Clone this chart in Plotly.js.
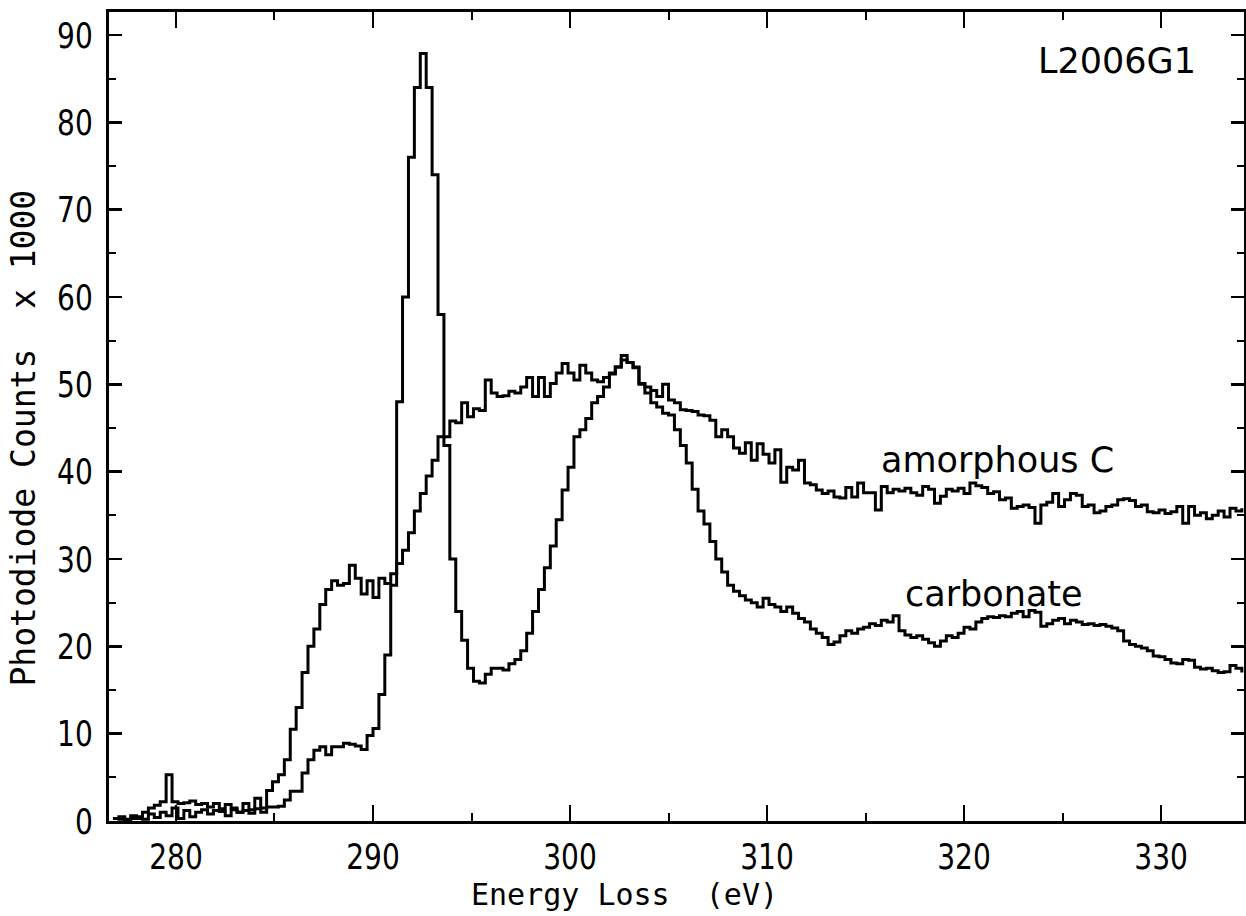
<!DOCTYPE html>
<html>
<head>
<meta charset="utf-8">
<script src="https://cdn.plot.ly/plotly-3.0.1.min.js"></script>
<style>
  html, body { margin: 0; padding: 0; background: #ffffff; }
  #chart { width: 1246px; height: 916px; }
</style>
</head>
<body>
<div id="chart"></div>
<script>
// ---- data (0.3 eV channels) ----
const energyStart = 276.8;      // eV, first channel
const channelWidth = 0.3;       // eV per channel

const carbonateCounts = [
  0.3,0.2,0.0,0.3,0.5,0.2,0.8,0.4,1.0,0.6,
  1.5,0.3,1.2,0.5,1.0,1.3,0.8,1.2,1.1,0.6,
  1.3,1.0,1.2,0.9,1.4,1.0,1.6,1.6,1.7,2.4,
  3.4,3.4,5.5,7.0,8.1,8.5,7.6,8.5,8.5,8.9,
  8.8,8.6,8.2,9.8,10.6,14.5,19.0,27.0,48.0,60.0,
  76.0,84.0,87.9,84.0,74.0,58.0,43.0,30.0,24.0,20.7,
  17.5,16.0,15.8,16.8,17.5,17.5,17.3,18.0,18.5,19.5,
  21.5,24.0,26.5,29.0,31.5,34.5,37.9,40.5,44.0,44.8,
  46.1,47.9,48.6,49.7,51.2,52.0,53.3,52.5,52.0,50.0,
  49.0,47.9,47.4,46.7,46.5,44.8,43.0,41.0,38.0,35.5,
  34.0,32.0,30.0,28.5,27.0,26.3,25.8,25.3,25.0,24.5,
  25.5,24.8,24.5,24.0,24.5,23.8,23.2,22.8,22.0,21.5,
  21.0,20.2,20.5,21.2,21.8,21.5,22.0,22.2,22.6,22.4,
  23.0,22.8,23.5,21.8,21.3,21.0,21.2,20.8,20.4,20.0,
  20.6,21.2,21.0,21.5,22.2,22.0,22.8,23.2,23.4,23.3,
  23.5,23.4,23.8,24.0,23.4,24.1,23.9,22.3,22.6,23.0,
  23.2,22.6,23.0,22.8,22.5,22.6,22.4,22.5,22.3,22.1,
  21.8,20.6,20.2,20.0,19.8,19.5,18.9,18.8,18.5,18.1,
  18.0,18.5,18.4,17.6,17.4,17.5,17.2,17.0,17.1,17.8,
  17.5,17.0
];

const amorphousCounts = [
  0.3,0.5,0.2,0.6,0.3,1.0,1.5,1.8,2.2,5.3,
  2.2,2.0,2.1,2.3,1.9,2.0,1.6,2.0,1.4,1.9,
  1.5,1.0,2.0,1.3,2.6,1.5,3.5,4.5,5.3,7.0,
  10.5,13.0,17.0,20.0,22.0,24.8,26.5,27.5,27.0,27.2,
  29.3,27.8,26.0,27.5,25.6,27.8,27.2,28.3,29.5,31.0,
  33.0,35.5,37.5,39.5,41.3,44.0,44.0,45.8,45.6,47.9,
  46.3,47.2,47.0,50.5,49.0,48.6,48.7,49.2,49.0,49.7,
  50.8,48.6,50.8,48.6,50.1,51.3,52.4,51.3,50.5,52.2,
  51.3,50.5,50.3,50.8,51.3,52.0,52.8,52.5,51.9,50.1,
  49.7,49.3,48.6,50.0,48.2,47.9,47.1,47.0,46.9,46.5,
  46.4,45.9,44.0,44.8,44.0,42.7,42.1,43.3,41.3,43.2,
  42.0,41.0,42.5,38.8,40.5,40.2,41.3,38.7,38.5,37.9,
  37.5,37.8,37.1,37.0,38.2,37.1,38.7,37.6,37.6,35.6,
  38.3,37.6,38.0,37.8,38.1,37.6,37.3,38.3,38.0,36.4,
  37.2,38.0,37.8,38.1,37.5,38.7,38.4,38.2,37.5,37.7,
  36.8,37.0,35.8,36.0,36.2,35.9,34.1,36.2,36.5,37.5,
  36.0,36.8,37.5,37.3,36.0,36.2,35.3,35.5,36.0,36.2,
  36.8,36.9,36.7,36.0,36.2,35.4,35.3,35.6,35.2,35.4,
  36.0,34.1,36.0,35.0,35.3,34.6,35.0,35.5,34.8,35.8,
  35.5,35.8
];

const xTickValues = [280, 290, 300, 310, 320, 330];
const xTickLabels = ["280", "290", "300", "310", "320", "330"];
const yTickValues = [0, 10, 20, 30, 40, 50, 60, 70, 80, 90];
const yTickLabels = ["0", "10", "20", "30", "40", "50", "60", "70", "80", "90"];

const xAxisTitle = "Energy Loss\u00A0 (eV)";
const yAxisTitle = "Photodiode Counts\u00A0 x 1000";
const sampleLabel = "L2006G1";
const amorphousLabel = "amorphous C";
const carbonateLabel = "carbonate";

// ---- styling ----
const tickFont = { family: "DejaVu Sans, sans-serif", size: 36, color: "#000" };
const xTitleFont = { family: "DejaVu Sans Mono, Liberation Mono, monospace", size: 30, color: "#000" };
const yTitleFont = { family: "DejaVu Sans Mono, Liberation Mono, monospace", size: 33, color: "#000" };
const labelFont = { family: "DejaVu Sans, Verdana, sans-serif", size: 35, color: "#000" };

const traces = [
  {
    type: "scatter", mode: "lines", name: "carbonate",
    x0: energyStart, dx: channelWidth, y: carbonateCounts,
    line: { shape: "hv", color: "#000", width: 3 }
  },
  {
    type: "scatter", mode: "lines", name: "amorphous C",
    x0: energyStart, dx: channelWidth, y: amorphousCounts,
    line: { shape: "hv", color: "#000", width: 3 }
  }
];

const axisCommon = {
  showgrid: false, zeroline: false,
  showline: true, linecolor: "#000", linewidth: 3,
  mirror: "allticks", ticks: "inside", tickcolor: "#000",
  tickmode: "array", tickfont: tickFont
};

const layout = {
  width: 1246, height: 916,
  margin: { l: 109, r: 2, t: 12, b: 95, pad: 0 },
  paper_bgcolor: "#ffffff", plot_bgcolor: "#ffffff",
  showlegend: false,
  xaxis: Object.assign({}, axisCommon, {
    range: [276.6, 334.21],
    tickvals: xTickValues, ticktext: xTickLabels,
    ticklen: 16, tickwidth: 2.5, ticklabelstandoff: 2,
    minor: { tickmode: "linear", tick0: 275, dtick: 5, ticks: "inside", ticklen: 8, tickwidth: 2, tickcolor: "#000", showgrid: false }
  }),
  yaxis: Object.assign({}, axisCommon, {
    range: [0, 92.64],
    tickvals: yTickValues, ticktext: yTickLabels,
    ticklen: 13, tickwidth: 2.5, ticklabelstandoff: 6,
    minor: { tickmode: "linear", tick0: 0, dtick: 5, ticks: "inside", ticklen: 7, tickwidth: 2, tickcolor: "#000", showgrid: false }
  }),
  annotations: [
    { text: xAxisTitle, xref: "paper", yref: "paper", x: 0.5, y: 0, xanchor: "center", yanchor: "top", yshift: -54, xshift: -52, showarrow: false, font: xTitleFont },
    { text: yAxisTitle, xref: "paper", yref: "paper", x: 0, y: 0.5, xanchor: "center", yanchor: "middle", xshift: -86, yshift: -22, textangle: -90, showarrow: false, font: yTitleFont },
    { text: sampleLabel, xref: "x", yref: "y", x: 327.77, y: 87.0, xanchor: "center", yanchor: "middle", showarrow: false, font: labelFont },
    { text: amorphousLabel, xref: "x", yref: "y", x: 321.7, y: 41.3, xanchor: "center", yanchor: "middle", showarrow: false, font: labelFont },
    { text: carbonateLabel, xref: "x", yref: "y", x: 321.5, y: 26.0, xanchor: "center", yanchor: "middle", showarrow: false, font: labelFont }
  ]
};

Plotly.newPlot("chart", traces, layout, { staticPlot: true, displayModeBar: false }).then(function (gd) {
  // narrow the tick digits horizontally, like the plotter font of the original
  gd.querySelectorAll(".xtick text, .ytick text").forEach(function (t) {
    const w = t.getComputedTextLength();
    t.setAttribute("textLength", (w * 0.78).toFixed(1));
    t.setAttribute("lengthAdjust", "spacingAndGlyphs");
  });
});
</script>
</body>
</html>
